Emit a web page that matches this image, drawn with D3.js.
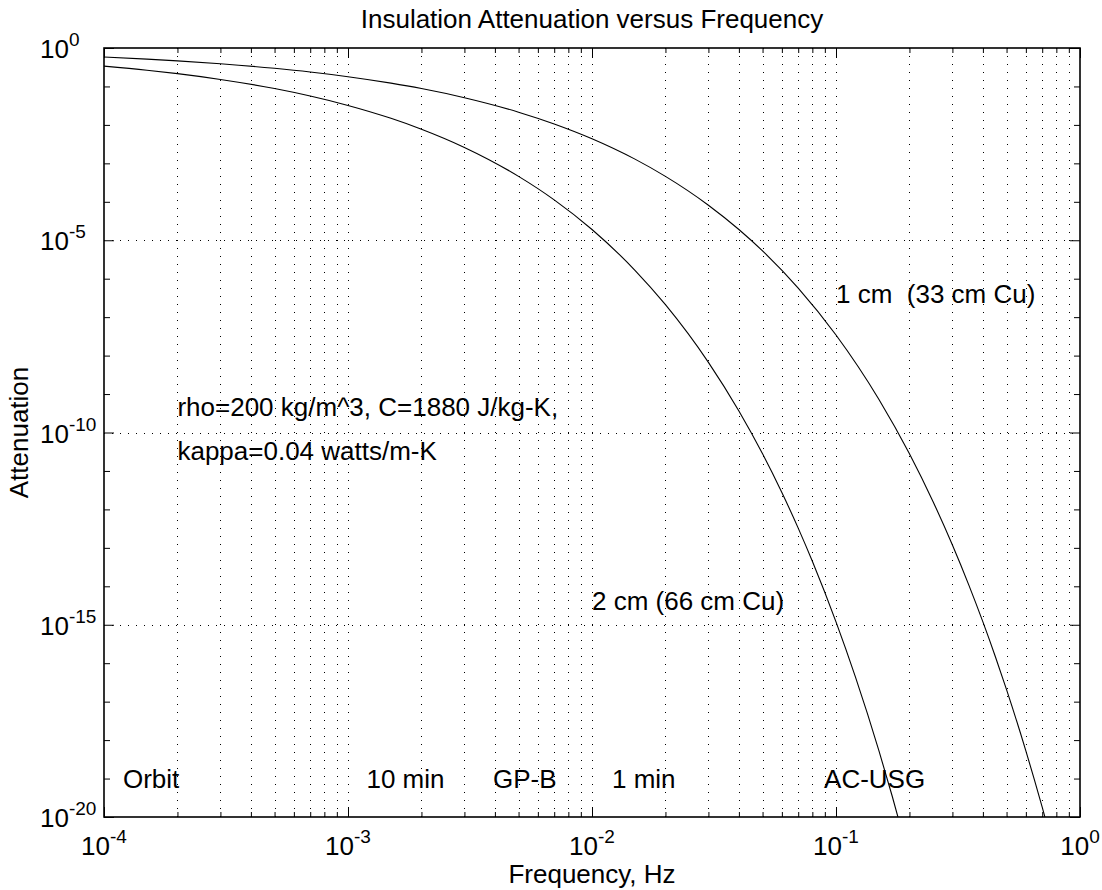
<!DOCTYPE html>
<html>
<head>
<meta charset="utf-8">
<script src="https://cdn.jsdelivr.net/npm/d3@7"></script>
<style>
  body { margin: 0; background: #fff; }
  svg { display: block; font-family: "Liberation Sans", Arial, Helvetica, sans-serif; }
  text { white-space: pre; }
</style>
</head>
<body>
<div id="chart"></div>
<script>
// values
const freq1cm = [1e-4, 1.5e-4, 2e-4, 3e-4, 5e-4, 7e-4, 1e-3, 1.5e-3, 2e-3, 3e-3, 5e-3, 7e-3,
                 1e-2, 1.5e-2, 2e-2, 3e-2, 4e-2, 5e-2, 7e-2, 0.1, 0.15, 0.2, 0.25, 0.3, 0.35,
                 0.4, 0.45, 0.5, 0.6, 0.65, 0.7, 0.75];
// log10 of attenuation
const att1cmExp = [-0.236, -0.289, -0.334, -0.409, -0.528, -0.624, -0.746, -0.914, -1.055, -1.293, -1.669, -1.975,
                   -2.360, -2.890, -3.338, -4.088, -4.720, -5.277, -6.244, -7.463, -9.140, -10.554, -11.80, -12.926, -13.962,
                   -14.926, -15.831, -16.688, -18.280, -19.027, -19.745, -20.438];

const freq2cm = [1e-4, 1.5e-4, 2e-4, 3e-4, 5e-4, 7e-4, 1e-3, 1.5e-3, 2e-3, 3e-3, 5e-3, 7e-3,
                 1e-2, 1.5e-2, 2e-2, 3e-2, 4e-2, 5e-2, 6e-2, 7e-2, 8e-2, 0.1, 0.12, 0.15, 0.17, 0.19];
const att2cmExp = [-0.472, -0.578, -0.667, -0.818, -1.055, -1.249, -1.493, -1.828, -2.111, -2.585, -3.338, -3.949,
                   -4.720, -5.781, -6.675, -8.175, -9.440, -10.554, -11.561, -12.487, -13.350, -14.926, -16.351, -18.280, -19.461, -20.574];

const xTickExps = [-4, -3, -2, -1, 0];
const yTickExps = [0, -5, -10, -15, -20];

const noteText = ["1 cm  (33 cm Cu)", "2 cm (66 cm Cu)", "rho=200 kg/m^3, C=1880 J/kg-K,", "kappa=0.04 watts/m-K",
                  "Orbit", "10 min", "GP-B", "1 min", "AC-USG"];
const noteFreq = [0.1, 0.01, 2e-4, 2e-4, 1.56e-4, 1.72e-3, 5.3e-3, 0.0163, 0.144];
const noteExp  = [-6.63, -14.62, -9.58, -10.72, -19.25, -19.25, -19.25, -19.25, -19.25];
const noteAnchor = ["start", "start", "start", "start", "middle", "middle", "middle", "middle", "middle"];

const W = 1102, H = 890;
const margin = {top: 48, right: 22, bottom: 73, left: 104};
const FONT = 26;

const svg = d3.select("#chart").append("svg").attr("width", W).attr("height", H);

const x = d3.scaleLog().domain([1e-4, 1]).range([margin.left, W - margin.right]);
const y = d3.scaleLog().domain([1e-20, 1]).range([H - margin.bottom, margin.top]);

const x0 = margin.left, x1 = W - margin.right, y0 = margin.top, y1 = H - margin.bottom;

// minor / major positions
const xMinor = x.ticks();                      // 1..9 x 10^k
const xMajor = xTickExps.map(e => Math.pow(10, e));
const yDecades = d3.range(-20, 1).map(e => Math.pow(10, e));
const yMajor = yTickExps.map(e => Math.pow(10, e));

// grid
const grid = svg.append("g").attr("stroke", "#000").attr("stroke-width", 1)
    .attr("stroke-dasharray", "1,7").attr("fill", "none");
grid.selectAll("line.v").data(xMinor.filter(v => v > 1e-4 && v < 1)).enter().append("line")
    .attr("x1", d => Math.round(x(d)) + 0.5).attr("x2", d => Math.round(x(d)) + 0.5)
    .attr("y1", y0).attr("y2", y1);
grid.selectAll("line.h").data(yMajor.filter(v => v > 1e-20 && v < 1)).enter().append("line")
    .attr("y1", d => Math.round(y(d)) + 0.5).attr("y2", d => Math.round(y(d)) + 0.5)
    .attr("x1", x0).attr("x2", x1);

// ticks via d3 axes (inward)
function tickAxis(axis, tx, ty) {
  const g = svg.append("g").attr("transform", `translate(${tx},${ty})`).call(axis);
  g.select(".domain").remove();
  g.selectAll("line").attr("stroke", "#000");
  return g;
}
const xMinorOnly = xMinor.filter(v => !xMajor.some(m => Math.abs(m - v) / v < 1e-9));
const yMinorOnly = yDecades.filter(v => !yMajor.some(m => Math.abs(m - v) / v < 1e-9));
tickAxis(d3.axisBottom(x).tickValues(xMinorOnly).tickSize(-5).tickFormat(""), 0, y1);
tickAxis(d3.axisBottom(x).tickValues(xMajor).tickSize(-10).tickFormat(""), 0, y1);
tickAxis(d3.axisTop(x).tickValues(xMinorOnly).tickSize(-5).tickFormat(""), 0, y0);
tickAxis(d3.axisTop(x).tickValues(xMajor).tickSize(-10).tickFormat(""), 0, y0);
tickAxis(d3.axisLeft(y).tickValues(yMinorOnly).tickSize(-6).tickFormat(""), x0, 0);
tickAxis(d3.axisLeft(y).tickValues(yMajor).tickSize(-10).tickFormat(""), x0, 0);
tickAxis(d3.axisRight(y).tickValues(yMinorOnly).tickSize(-6).tickFormat(""), x1, 0);
tickAxis(d3.axisRight(y).tickValues(yMajor).tickSize(-10).tickFormat(""), x1, 0);

// curves
svg.append("defs").append("clipPath").attr("id", "clip")
  .append("rect").attr("x", x0).attr("y", y0).attr("width", x1 - x0).attr("height", y1 - y0);

const line = d3.line()
    .x(d => x(d[0]))
    .y(d => y(d[1]))
    .curve(d3.curveMonotoneX);

const series = [
  d3.zip(freq1cm, att1cmExp.map(e => Math.pow(10, e))),
  d3.zip(freq2cm, att2cmExp.map(e => Math.pow(10, e)))
];
svg.append("g").attr("clip-path", "url(#clip)")
  .selectAll("path").data(series).enter().append("path")
    .attr("d", line)
    .attr("fill", "none").attr("stroke", "#000").attr("stroke-width", 1.1);

// box
svg.append("rect").attr("x", x0).attr("y", y0).attr("width", x1 - x0).attr("height", y1 - y0)
  .attr("fill", "none").attr("stroke", "#000").attr("stroke-width", 1.6);

// tick labels: 10 with superscript exponent
const xl = svg.append("g").attr("font-size", FONT).attr("fill", "#000");
xTickExps.forEach(e => {
  const t = xl.append("text").attr("x", x(Math.pow(10, e))).attr("y", y1 + 38).attr("text-anchor", "middle");
  t.append("tspan").text("10");
  t.append("tspan").attr("dy", -12).attr("font-size", 19).text(e);
});
yTickExps.forEach(e => {
  const t = xl.append("text").attr("x", x0 - 64).attr("y", y(Math.pow(10, e)) + 10);
  t.append("tspan").text("10");
  t.append("tspan").attr("dy", -12).attr("font-size", 19).text(e);
});

// title and axis labels
svg.append("text").attr("x", (x0 + x1) / 2).attr("y", 28).attr("text-anchor", "middle")
  .attr("font-size", FONT).text("Insulation Attenuation versus Frequency");
svg.append("text").attr("x", (x0 + x1) / 2).attr("y", 883).attr("text-anchor", "middle")
  .attr("font-size", FONT).text("Frequency, Hz");
svg.append("text").attr("transform", `translate(28,${(y0 + y1) / 2}) rotate(-90)`).attr("text-anchor", "middle")
  .attr("font-size", FONT).text("Attenuation");

// annotations
svg.append("g").attr("font-size", FONT)
  .selectAll("text").data(noteText).enter().append("text")
    .attr("x", (d, i) => x(noteFreq[i]))
    .attr("y", (d, i) => y(Math.pow(10, noteExp[i])))
    .attr("text-anchor", (d, i) => noteAnchor[i])
    .text(d => d);
</script>
</body>
</html>
